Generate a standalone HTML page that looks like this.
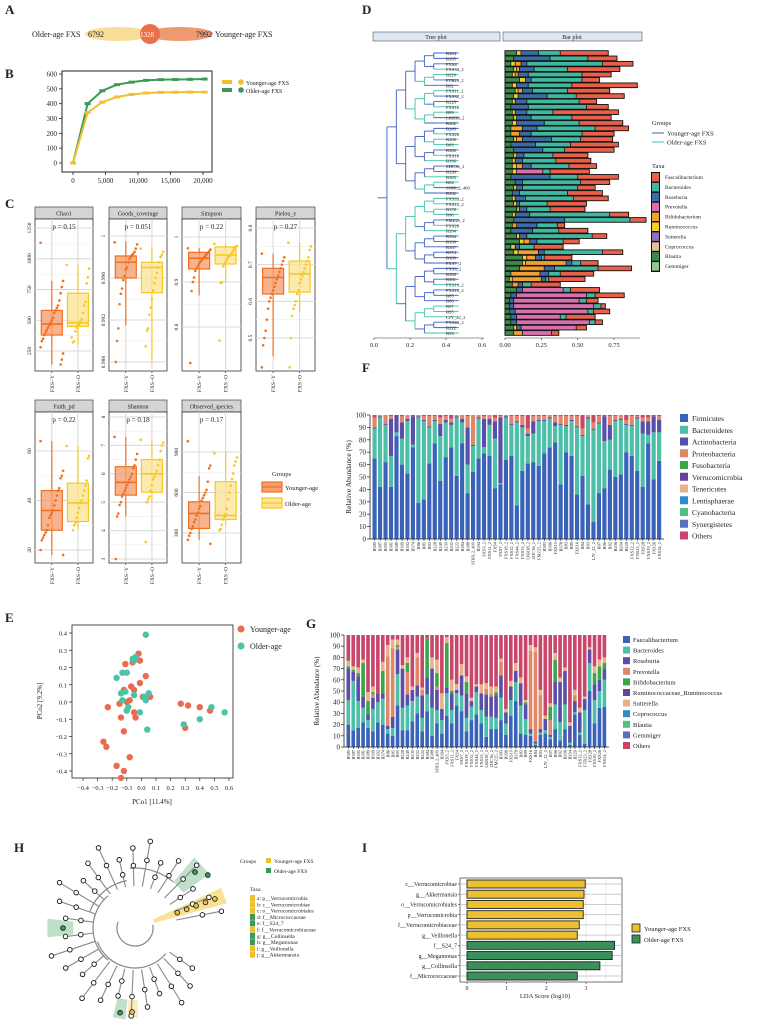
<!DOCTYPE html>
<html><head><meta charset="utf-8"><title>FXS microbiome figure</title>
<style>
html,body{margin:0;padding:0;background:#fff;}
svg{display:block;font-family:"Liberation Serif","Noto Serif CJK SC",serif;}
</style></head>
<body>
<svg id="fig" width="758" height="1028" viewBox="0 0 758 1028" xmlns="http://www.w3.org/2000/svg"></svg>
<script>
// ---------- DATA ----------
const rareX = [0,2250,4500,6750,9000,11250,13500,15750,18000,20250];
const rareYoung = [0,340,410,445,462,472,476,477,478,478];
const rareOld = [0,400,487,528,545,557,562,563,564,566];
const chaoY=[140,380,470,580,820], chaoO=[300,450,480,720,950];
const chaoPtsY=[1130,820,770,720,660,620,600,580,560,520,500,480,460,440,420,400,380,350,330,280,230,180,140];
const chaoPtsO=[950,920,850,800,650,620,560,510,490,470,460,440,410,330,320,360];
const goodsY=[0.9915,0.9960,0.9975,0.9981,0.9995], goodsO=[0.9880,0.9946,0.9970,0.9975,0.9990];
const goodsPtsY=[0.9994,0.9992,0.9988,0.9985,0.9983,0.9982,0.998,0.9978,0.9975,0.997,0.9968,0.9962,0.9958,0.995,0.9945,0.9935,0.9912,0.9900,0.9880];
const goodsPtsO=[0.9988,0.9985,0.9982,0.998,0.9975,0.997,0.9965,0.996,0.9955,0.9948,0.994,0.9932,0.9925,0.9912,0.9910,0.9895];
const simpY=[0.87,0.929,0.953,0.966,0.975], simpO=[0.90,0.94,0.96,0.978,0.985];
const simpPtsY=[0.975,0.972,0.968,0.965,0.962,0.958,0.955,0.952,0.948,0.945,0.94,0.935,0.93,0.925,0.91,0.9,0.88,0.72];
const simpPtsO=[0.985,0.98,0.978,0.975,0.97,0.965,0.96,0.958,0.955,0.95,0.945,0.94,0.935,0.9,0.898,0.77];
const pielY=[0.45,0.62,0.665,0.69,0.73], pielO=[0.57,0.625,0.675,0.71,0.76];
const pielPtsY=[0.73,0.72,0.71,0.7,0.69,0.68,0.67,0.66,0.65,0.64,0.63,0.62,0.61,0.6,0.58,0.55,0.52,0.5,0.48,0.42];
const pielPtsO=[0.76,0.75,0.74,0.72,0.71,0.7,0.69,0.68,0.67,0.66,0.65,0.63,0.62,0.6,0.59,0.58,0.56,0.5,0.42];
const faithY=[18,28,36,44,64], faithO=[28,31.5,39,47,62];
const faithPtsY=[64,52,50,49,45,44,42,40,38,36,35,34,33,30,28,27,26,25,24,20,18];
const faithPtsO=[62,58,57,48,46,44,42,40,39,37,35,33,31,30,28];
const shanY=[4.5,5.25,5.7,6.25,7.3], shanO=[5.0,5.35,6.0,6.5,7.2];
const shanPtsY=[7.3,6.7,6.5,6.3,6.2,6.0,5.9,5.8,5.7,5.6,5.5,5.4,5.3,5.2,5.0,4.9,4.6,4.5,3.0];
const shanPtsO=[7.2,7.1,7.0,6.8,6.5,6.3,6.1,6.0,5.9,5.8,5.6,5.4,5.2,5.1,5.0,3.6];
const obsY=[250,334,445,531,720], obsO=[360,400,430,680,900];
const obsPtsY=[980,800,780,680,620,600,580,560,540,500,480,450,430,400,380,350,330,300,280,250,220];
const obsPtsO=[890,860,830,800,740,700,650,600,550,480,440,420,400,360,330,320];
const dLabels=["B384","B395","FXS4","FXS34_2","B229","FTR23_2","B92","FXS11_2","FXS32_2","B228","FXS16","B89","LKR38_2","B202","B249","FXS26","B206","B83","B380","FXS10","B396","ZHC36_2","B230","B383","B84","SJH9_2_400","B392","FXS33_2","FXS12_2","B378","B96","FMZ25_2","FXS28","B204","B394","B399","B387","B374","B389","FXS7_2","FXS3_2","B388","B381","FXS19_2","FXS18_2","B85","B86","B97","B95","LJY_22_2","FXS44_2","B222","B93"];
const dGroup=[0,0,0,1,1,0,0,1,0,0,1,1,0,0,0,1,1,1,0,1,1,0,0,1,1,0,0,1,1,1,1,0,1,1,0,0,0,0,0,0,0,0,0,1,0,0,0,1,1,1,0,0,1];
const dMisc=[.08,.06,.04,.06,.05,.10,.05,.07,.06,.05,.04,.05,.06,.05,.04,.04,.06,.04,.06,.06,.05,.05,.05,.04,.07,.06,.05,.05,.06,.08,.05,.06,.05,.04,.08,.1,.04,.06,.12,.12,.1,.04,.03,.05,.08,.04,.03,.03,.03,.04,.04,.06,.06];
const dRumino=[.03,.0,.03,.02,.02,.04,.03,.02,.03,.02,.0,.02,.02,.03,.0,.0,.02,.0,.0,.02,.02,.03,.03,.0,.0,.02,.0,.02,.02,.0,.02,.0,.0,.0,.02,.03,.03,.03,.03,.02,.0,.0,.02,.0,.0,.0,.0,.0,.0,.0,.0,.02,.0];
const dBifido=[.0,.0,.04,.02,.02,.0,.0,.03,.0,.0,.0,.0,.0,.0,.08,.06,.04,.0,.0,.0,.0,.04,.0,.0,.0,.0,.0,.0,.0,.02,.0,.0,.03,.0,.0,.04,.0,.14,.06,.28,.17,.2,.2,.04,.0,.0,.0,.0,.0,.0,.0,.0,.06];
const dRose=[.12,.25,.04,.1,.07,.04,.08,.07,.2,.08,.12,.08,.1,.19,.1,.08,.2,.17,.2,.05,.05,.06,.0,.27,.05,.04,.05,.07,.02,.05,.1,.35,.14,.15,.05,.05,.03,.04,.04,.04,.07,.06,.03,.03,.04,.04,.03,.03,.04,.04,.04,.03,.0];
const dPrev=[0,0,0,0,0,0,0,0,0,0,0,0,0,0,0,0,0,0,0,0,0,0,.18,0,0,0,0,0,0,0,0,0,0,0,0,0,0,0,0,0,0,0,0,0,.28,.48,.45,.55,.5,.3,.5,.38,.2];
const dBact=[.15,.26,.52,.23,.37,.35,.3,.24,.2,.36,.4,.18,.28,.24,.4,.35,.2,.24,.15,.2,.23,.26,.05,.19,.4,.38,.33,.33,.19,.16,.55,.45,.14,.18,.45,.18,.1,.4,.02,.06,.3,.08,.02,.06,.05,.06,.05,.05,.04,.04,.04,.0,.0];
const dFaec=[.33,.2,.21,.36,.2,.12,.45,.29,.33,.12,.15,.45,.27,.3,.23,.22,.22,.33,.34,.24,.24,.19,.27,.28,.2,.12,.24,.24,.27,.24,.13,.11,.05,.2,.1,.11,.2,.14,.19,.12,.23,.23,.25,.2,.2,.2,.08,.03,.11,.2,.05,.07,.05];
const dTicks=[0,0.25,0.5,0.75];
const treeTicks=[0,0.2,0.4,0.6];
const fLabels=["B380","B387","B395","B381","B389","B399","B392","B374","B86","B85","B95","B228","B249","B230","B202","B222","B384","B388","SJH9_2_400","B394","FXS3_2","FXS11_2","FXS4","FXS7_2","FXS18_2","FXS32_2","FXS44_2","FXS33_2","LKR38_2","ZHC36_2","FMZ25_2","B383","B396","FXS10","B378","B83","B89","FXS16","B84","B93","LJY_22_2","B97","B96","B92","B206","B204","B229","FXS12_2","FTR23_2","FXS28","FXS19_2","FXS26","FXS34_2"];
const firm=[65,42,62,42,83,60,53,74,29,32,61,77,47,66,74,51,77,37,54,65,69,67,41,44,64,67,27,55,61,62,59,69,74,78,44,70,67,36,51,28,14,37,41,56,50,52,70,67,55,42,77,48,63];
const bacteroidetes=[24,56,30,25,3,21,42,2,69,63,29,18,36,28,18,47,17,23,21,32,5,25,40,1,34,25,67,35,22,23,36,26,23,13,48,21,28,54,32,69,74,56,38,24,45,44,22,24,42,43,7,38,23];
const actino=[1,1,1,30,14,13,2,23,1,1,1,1,10,2,2,1,3,30,1,1,23,5,14,53,1,1,1,2,2,10,1,1,1,3,1,1,1,1,1,1,1,1,20,12,1,1,1,1,1,10,11,13,10];
const proteo=[8,1,7,2,0,5,3,0,1,3,8,3,5,3,3,1,3,9,24,2,2,3,3,1,1,6,4,7,4,4,3,3,2,5,6,7,3,8,5,2,5,5,0,7,3,3,3,7,1,3,3,0,3];
const fTicks=[0,10,20,30,40,50,60,70,80,90,100];
const gFaec=[20,15,17,22,17,14,22,20,12,10,37,15,15,23,30,14,32,10,21,12,28,21,37,32,14,24,29,21,9,16,16,24,11,28,41,12,11,10,2,11,12,7,16,6,16,2,29,11,3,50,21,35,36];
const gBact=[22,44,24,13,7,20,18,23,4,7,28,20,22,18,15,12,15,25,12,12,20,12,11,14,12,12,20,12,18,11,10,20,10,14,17,25,14,2,1,2,3,2,22,16,22,2,2,2,30,25,21,15,24];
const gRose=[28,8,22,10,5,10,8,5,3,10,22,35,10,10,10,20,15,35,18,10,5,15,3,18,22,5,5,15,20,18,20,20,10,12,10,20,13,4,2,3,10,2,20,36,30,15,10,18,10,12,14,10,10];
const gPrev=[0,0,0,0,0,3,0,0,62,61,2,0,20,0,25,5,0,0,3,0,0,0,0,0,0,0,0,0,5,3,0,12,0,0,0,0,0,70,80,30,0,13,0,0,0,0,5,0,0,0,0,0,0];
const gBifido=[2,2,3,30,12,2,0,20,0,0,2,0,8,0,0,0,35,0,12,0,40,2,0,0,10,0,0,0,0,0,3,0,0,0,0,0,2,0,0,0,0,12,20,0,0,0,0,0,0,0,10,12,5];
const gSutt=[5,3,5,3,8,5,0,8,10,8,5,3,5,3,4,2,0,10,12,14,5,10,5,10,5,3,2,8,5,6,5,3,3,5,7,5,2,5,4,5,3,3,6,4,3,3,5,4,2,2,6,6,5];
const pcYoungX=[-0.02,-0.01,-0.06,-0.11,0.03,-0.01,-0.07,-0.12,-0.05,0.01,0.06,-0.08,-0.10,-0.15,-0.23,-0.05,-0.14,-0.04,-0.12,-0.26,-0.24,-0.08,-0.17,-0.12,-0.14,0.27,0.32,0.40,0.30,0.47];
const pcYoungY=[0.28,0.24,0.23,0.22,0.15,0.11,0.09,0.07,0.07,0.03,0.03,0.01,0.0,-0.01,-0.03,-0.06,-0.09,-0.09,-0.17,-0.23,-0.26,-0.32,-0.37,-0.40,-0.44,-0.01,-0.02,-0.03,-0.15,-0.05];
const pcOldX=[0.03,-0.06,-0.04,-0.05,-0.13,-0.10,-0.17,-0.11,-0.14,0.05,-0.05,0.02,0.03,-0.13,-0.09,-0.10,-0.01,0.04,0.29,0.40,0.48,0.57];
const pcOldY=[0.39,0.25,0.26,0.24,0.17,0.17,0.14,0.06,0.05,0.05,0.04,0.03,0.01,0.01,-0.03,-0.05,-0.06,-0.16,-0.13,-0.10,-0.03,-0.06];
const pcXTicks=[-0.4,-0.3,-0.2,-0.1,0.0,0.1,0.2,0.3,0.4,0.5,0.6];
const pcYTicks=[0.4,0.3,0.2,0.1,0.0,-0.1,-0.2,-0.3,-0.4];
const ldaTaxa=["c__Verrucomicrobiae","g__Akkermansia","o__Verrucomicrobiales","p__Verrucomicrobia","f__Verrucomicrobiaceae","g__Veillonella","f__S24_7","g__Megamonas","g__Collinsella","f__Micrococcaceae"];
const ldaScore=[2.98,2.95,2.93,2.93,2.83,2.78,3.72,3.66,3.35,2.78];
const ldaGroup=[0,0,0,0,0,0,1,1,1,1];
const ldaTicks=[0,1,2,3];

// ---------- HELPERS ----------
const NS="http://www.w3.org/2000/svg";
const svg=document.getElementById('fig');
function mk(tag,attrs,name,parent){
  const el=document.createElementNS(NS,tag);
  for(const k in attrs) el.setAttribute(k,attrs[k]);
  
  
  (parent||svg).appendChild(el);
  return el;
}
function txt(x,y,s,size,name,extra,parent){
  const a=Object.assign({x:x,y:y,'font-size':size,fill:'#222'},extra||{});
  const t=mk('text',a,name,parent);
  t.textContent=s;
  return t;
}
function lin(v0,p0,v1,p1){return v=>p0+(v-v0)*(p1-p0)/(v1-v0);}
function rect(x,y,w,h,fill,name,extra,parent){return mk('rect',Object.assign({x:x,y:y,width:Math.max(0,w),height:Math.max(0,h),fill:fill},extra||{}),name,parent);}
function line(x1,y1,x2,y2,stroke,sw,name,extra,parent){return mk('line',Object.assign({x1:x1,y1:y1,x2:x2,y2:y2,stroke:stroke,'stroke-width':sw},extra||{}),name,parent);}

[["A",5,14],["B",5,78],["C",5,208],["D",362,14],["F",362,372],["E",5,622],["G",306,628],["H",14,852],["I",362,852]].forEach(p=>{
  txt(p[1],p[2],p[0],13,'panel-label-'+p[0].toLowerCase(),{'font-weight':'bold'});
});

// ---------- A Venn ----------
mk('ellipse',{cx:118,cy:34,rx:33,ry:7,fill:'#f9dd98'},'venn-older');
mk('ellipse',{cx:180,cy:34,rx:33,ry:7,fill:'#f09a72'},'venn-younger');
mk('circle',{cx:150,cy:34,r:10,fill:'#e8704a'},'venn-overlap');
txt(32,37,"Older-age FXS",8,'venn-older-label');
txt(88,37,"6792",8,'venn-older-count');
txt(140,37,"1328",7,'venn-overlap-count',{fill:'#fff'});
txt(196,37,"7992",8,'venn-younger-count');
txt(215,37,"Younger-age FXS",8,'venn-younger-label');

// ---------- B rarefaction ----------
(function(){
  const X=lin(0,73,20000,203), Y=lin(0,163,600,74);
  rect(62,71,150,101,'none','rarefaction-plot-box',{stroke:'#222','stroke-width':1});
  [0,100,200,300,400,500,600].forEach(v=>{line(59,Y(v),62,Y(v),'#222',0.8,'y-tick');txt(57,Y(v)+2.5,String(v),7,'y-tick-label',{'text-anchor':'end'});});
  [0,5000,10000,15000,20000].forEach(v=>{line(X(v),172,X(v),175,'#222',0.8,'x-tick');txt(X(v),183,v.toLocaleString('en-US'),7,'x-tick-label',{'text-anchor':'middle'});});
  [[rareOld,'#3a9a55','older'],[rareYoung,'#f0c030','younger']].forEach(s=>{
    const pts=rareX.map((x,i)=>X(x)+','+Y(s[0][i])).join(' ');
    mk('polyline',{points:pts,fill:'none',stroke:s[1],'stroke-width':2},'rarefaction-line-'+s[2]);
    rareX.forEach((x,i)=>{mk('rect',{x:X(x)-3,y:Y(s[0][i])-1.5,width:6,height:3,fill:s[1]},'rarefaction-point-'+s[2]);});
  });
  rect(222,80,10,4,'#f0c030','legend-swatch-younger');mk('circle',{cx:241,cy:82,r:2.8,fill:'#f0c030'},'legend-dot-younger');
  txt(246,85,"Younger-age FXS",6,'legend-label-younger');
  rect(222,88,10,4,'#3a9a55','legend-swatch-older');mk('circle',{cx:241,cy:90,r:2.8,fill:'#3a9a55'},'legend-dot-older');
  txt(246,93,"Older-age FXS",6,'legend-label-older');
})();

// ---------- C box plots ----------
function boxPanel(x0,x1,y0,y1,title,p,ticks,Y,bY,bO,ptsY,ptsO){
  const g=mk('g',{},'facet-'+title.toLowerCase());
  rect(x0,y0-12,x1-x0,12,'#d4d4d4','facet-strip',{stroke:'#444','stroke-width':0.7},g);
  txt((x0+x1)/2,y0-3.5,title,6,'facet-title',{'text-anchor':'middle'},g);
  rect(x0,y0,x1-x0,y1-y0,'#fff','facet-panel',{stroke:'#333','stroke-width':0.8},g);
  ticks.forEach(t=>{const yy=Y(t);if(yy>y0&&yy<y1){line(x0,yy,x1,yy,'#d8d8d8',1,'grid-line',{},g);
    txt(x0-4,yy,String(t),5.5,'y-tick-label',{'text-anchor':'middle',transform:`rotate(-90 ${x0-4} ${yy})`},g);}
  });
  ticks.forEach((t,i)=>{if(i<ticks.length-1){const ym=(Y(t)+Y(ticks[i+1]))/2;if(ym>y0&&ym<y1)line(x0,ym,x1,ym,'#eeeeee',0.6,'grid-minor',{},g);}});
  const xs=[x0+(x1-x0)*0.29,x0+(x1-x0)*0.74];
  xs.forEach(x=>line(x,y0,x,y1,'#d8d8d8',1,'grid-line-x',{},g));
  txt((x0+x1)/2,y0+10,"p = "+p,7,'p-value',{'text-anchor':'middle'},g);
  const cols=[['#f07020','#f4a070'],['#f8c820','#fae49a']];
  [bY,bO].forEach((b,k)=>{
    const x=xs[k],c=cols[k],w=21;
    const cl=v=>Math.max(y0,Math.min(y1,Y(v)));
    line(x,cl(b[0]),x,cl(b[4]),c[0],1.2,'whisker',{},g);
    rect(x-w/2,cl(b[3]),w,cl(b[1])-cl(b[3]),c[1],'box',{stroke:c[0],'stroke-width':1.2,'fill-opacity':0.8},g);
    line(x-w/2,cl(b[2]),x+w/2,cl(b[2]),c[0],1.6,'median-line',{},g);
  });
  [ptsY,ptsO].forEach((ps,k)=>{
    const c=cols[k][0];
    ps.forEach((v,i)=>{const yy=Y(v);if(yy<y0||yy>y1)return;const dx=((i*37)%19-9)*1.25;
      mk('circle',{cx:xs[k]+dx,cy:yy,r:1.3,fill:c},'data-point',g);});
  });
  ['FXS−Y','FXS−O'].forEach((s,k)=>{line(xs[k],y1,xs[k],y1+2,'#333',0.7,'x-tick',{},g);
    txt(xs[k]+2,y1+4,s,5.5,'x-tick-label',{'text-anchor':'end',transform:`rotate(-90 ${xs[k]+2} ${y1+4})`},g);});
}
boxPanel(35,93,219,371,"Chao1","0.15",[250,500,750,1000,1250],lin(250,351,1250,228),chaoY,chaoO,chaoPtsY,chaoPtsO);
boxPanel(109,167,219,371,"Goods_coverage","0.051",[0.988,0.992,0.996,1.0],lin(0.988,362,1.0,236),goodsY,goodsO,goodsPtsY,goodsPtsO);
boxPanel(182,241,219,371,"Simpson","0.22",[0.8,0.9,1.0],lin(0.8,327,1.0,237),simpY,simpO,simpPtsY,simpPtsO);
boxPanel(256,315,219,371,"Pielou_e","0.27",[0.5,0.6,0.7,0.8],lin(0.5,338,0.8,228),pielY,pielO,pielPtsY,pielPtsO);
boxPanel(35,93,412,563,"Faith_pd","0.22",[20,40,60],lin(20,550,60,451),faithY,faithO,faithPtsY,faithPtsO);
boxPanel(109,167,412,563,"Shannon","0.18",[3,4,5,6,7,8],lin(3,559,8,417),shanY,shanO,shanPtsY,shanPtsO);
boxPanel(182,241,412,563,"Observed_species","0.17",[300,600,900],lin(300,533,900,452),obsY,obsO,obsPtsY,obsPtsO);
txt(272,476,"Groups",6.5,'legend-title');
rect(262,482,20,10,'#f4a070','legend-box-younger',{stroke:'#f07020','stroke-width':1.2});
line(262,487,282,487,'#f07020',1.2,'legend-median-younger');
txt(285,490,"Younger-age",6.5,'legend-label-younger');
rect(262,498,20,10,'#fae49a','legend-box-older',{stroke:'#f8c820','stroke-width':1.2});
line(262,503,282,503,'#f8c820',1.2,'legend-median-older');
txt(285,506,"Older-age",6.5,'legend-label-older');

// ---------- D tree + bar ----------
(function(){
  rect(373,32,127,9,'#dde6f4','tree-strip',{stroke:'#555','stroke-width':0.6});
  txt(436,39,"Tree plot",6,'tree-strip-title',{'text-anchor':'middle'});
  rect(503,32,139,9,'#dde6f4','bar-strip',{stroke:'#555','stroke-width':0.6});
  txt(572,39,"Bar plot",6,'bar-strip-title',{'text-anchor':'middle'});
  const n=dLabels.length, rowY=i=>53+i*(280/(n-1));
  const TX=lin(0,374,0.6,482);
  const gcol=['#3f5fc0','#3ec0a8'];
  function build(lo,hi,depth){
    const x=TX(0.02+depth*0.052);
    if(lo===hi){line(x,rowY(lo),TX(0.47),rowY(lo),gcol[dGroup[lo]],0.9,'tree-leaf-branch');return {y:rowY(lo),g:dGroup[lo]};}
    const mid=Math.floor((lo+hi)/2);
    const a=build(lo,mid,depth+1),b=build(mid+1,hi,depth+1);
    const cx=TX(0.02+(depth+1)*0.052);
    const gg=(a.g===b.g)?a.g:dGroup[lo];
    line(cx,a.y,cx,b.y,gcol[gg],0.9,'tree-node');
    line(x,(a.y+b.y)/2,cx,(a.y+b.y)/2,gcol[gg],0.9,'tree-branch');
    return {y:(a.y+b.y)/2,g:gg};
  }
  build(0,n-1,0);
  dLabels.forEach((s,i)=>txt(446,rowY(i)+2,s,4.6,'tree-leaf-label'));
  line(374,338,484,338,'#333',0.6,'tree-axis');
  treeTicks.forEach(t=>{line(TX(t),338,TX(t),340,'#333',0.6,'tree-tick');txt(TX(t),347,t.toFixed(1),6.5,'tree-tick-label',{'text-anchor':'middle'});});
  const BX=lin(0,505,0.75,614);
  const segs=[[dMisc,'#3a8a4a'],[dRumino,'#f0d030'],[dBifido,'#f0a030'],[dRose,'#3a6aa8'],[dPrev,'#d870b0'],[dBact,'#40b8a0'],[dFaec,'#e8604a']];
  dLabels.forEach((s,i)=>{
    let acc=0;const y=rowY(i)-2.3;
    let tot=segs.reduce((a,sg)=>a+sg[0][i],0);
    rect(BX(0)-0.5,y-0.5,BX(tot)-BX(0)+1,5.6,'#111','bar-row-outline');
    segs.forEach(sg=>{const v=sg[0][i];if(v>0){rect(BX(acc)+0.4,y+0.4,BX(acc+v)-BX(acc)-0.8,3.8,sg[1],'bar-segment');}acc+=v;});
  });
  line(505,338,640,338,'#333',0.6,'bar-axis');
  dTicks.forEach(t=>{line(BX(t),338,BX(t),340,'#333',0.6,'bar-tick');txt(BX(t),347,t.toFixed(2),6.5,'bar-tick-label',{'text-anchor':'middle'});});
  txt(652,125,"Groups",6.5,'groups-legend-title');
  line(652,133,664,133,'#3f5fc0',1,'legend-younger-line');txt(667,135.5,"Younger-age FXS",6.5,'legend-younger-label');
  line(652,142,664,142,'#3ec0a8',1,'legend-older-line');txt(667,144.5,"Older-age FXS",6.5,'legend-older-label');
  txt(652,168,"Taxa",6.5,'taxa-legend-title');
  const tn=["Faecalibacterium","Bacteroides","Roseburia","Prevotella","Bifidobacterium","Ruminococcus","Sutterella","Coprococcus","Blautia","Gemmiger"];
  const tc=['#e8604a','#40b8a0','#3a6aa8','#d870b0','#f0a030','#f0d030','#9070c0','#e0c090','#3a8a4a','#90c890'];
  rect(651,172,9,100,'#111','taxa-legend-frame');
  tn.forEach((s,i)=>{rect(652,173+i*9.9,7,8.5,tc[i],'taxa-legend-swatch');txt(665,179+i*9.9,s,5.5,'taxa-legend-label');});
})();

function stacked(x0,x1,y0,y1,labels,series,colors,prefix){
  const n=labels.length, bw=(x1-x0)/n, Y=lin(0,y1,100,y0);
  labels.forEach((s,i)=>{
    let acc=0;
    series.forEach((ser,k)=>{
      const v=(ser===null)?Math.max(0,100-acc):ser[i];
      const top=Math.min(100,acc+v);
      if(top>acc)rect(x0+i*bw+0.5,Y(top),bw-1.3,Y(acc)-Y(top),colors[k],prefix+'-segment');
      acc=top;
    });
    line(x0+i*bw+bw/2,y1,x0+i*bw+bw/2,y1+2,'#222',0.6,prefix+'-x-tick');
    txt(x0+i*bw+bw/2+1.5,y1+3,s,4.4,prefix+'-x-label',{'text-anchor':'end',transform:`rotate(-90 ${x0+i*bw+bw/2+1.5} ${y1+3})`});
  });
  line(x0-2,y0,x0-2,y1,'#222',0.8,prefix+'-y-axis');
  line(x0-2,y1,x1+2,y1,'#222',0.8,prefix+'-x-axis');
  fTicks.forEach(t=>{line(x0-5,Y(t),x0-2,Y(t),'#222',0.7,prefix+'-y-tick');txt(x0-6,Y(t)+2.5,String(t),7,prefix+'-y-tick-label',{'text-anchor':'end'});});
}
(function(){
  const cols=['#3a62b8','#4dbfa8','#5a4fa8','#e0876a','#c8466a'];
  stacked(372,662,415,539,fLabels,[firm,bacteroidetes,actino,proteo,null],cols,'phylum');
  txt(351,477,"Relative Abundance (%)",7.5,'phylum-y-title',{'text-anchor':'middle',transform:'rotate(-90 351 477)'});
  const ln=["Firmicutes","Bacteroidetes","Actinobacteria","Proteobacteria","Fusobacteria","Verrucomicrobia","Tenericutes","Lentisphaerae","Cyanobacteria","Synergistetes","Others"];
  const lc=['#3a62b8','#4dbfa8','#5a4fa8','#e0876a','#3aa64a','#6a3fa0','#e8b08a','#2f8ad0','#50c080','#5a70c0','#c8466a'];
  ln.forEach((s,i)=>{rect(680,414+i*11.75,8,8,lc[i],'phylum-legend-swatch');txt(692,421+i*11.75,s,7.5,'phylum-legend-label');});
})();
(function(){
  const cols=['#3a62b8','#4dbfa8','#5a4fa8','#e0876a','#3aa64a','#e8b08a','#c8466a'];
  stacked(346,607,635,747,fLabels,[gFaec,gBact,gRose,gPrev,gBifido,gSutt,null],cols,'genus');
  txt(319,691,"Relative Abundance (%)",7,'genus-y-title',{'text-anchor':'middle',transform:'rotate(-90 319 691)'});
  const ln=["Faecalibacterium","Bacteroides","Roseburia","Prevotella","Bifidobacterium","Ruminococcaceae_Ruminococcus","Sutterella","Coprococcus","Blautia","Gemmiger","Others"];
  const lc=['#3a62b8','#4dbfa8','#5a4fa8','#e0876a','#3aa64a','#6a3fa0','#e8b08a','#2f8ad0','#50c080','#5a70c0','#c8466a'];
  ln.forEach((s,i)=>{rect(623,636+i*10.6,7,7,lc[i],'genus-legend-swatch');txt(633,642+i*10.6,s,6.5,'genus-legend-label');});
})();

// ---------- E PCoA ----------
(function(){
  const X=lin(-0.4,83,0.6,229), Y=lin(0.4,633,-0.4,771);
  rect(72,625,161,153,'none','pcoa-plot-box',{stroke:'#222','stroke-width':0.8});
  pcXTicks.forEach(t=>{line(X(t),778,X(t),781,'#222',0.7,'x-tick');txt(X(t),790,(Math.abs(t)<1e-9?"0.0":(t<0?"−":"")+Math.abs(t).toFixed(1)),6.5,'x-tick-label',{'text-anchor':'middle'});});
  pcYTicks.forEach(t=>{line(69,Y(t),72,Y(t),'#222',0.7,'y-tick');txt(67,Y(t)+2.5,(Math.abs(t)<1e-9?"0.0":(t<0?"−":"")+Math.abs(t).toFixed(1)),6.5,'y-tick-label',{'text-anchor':'end'});});
  txt(152,804,"PCo1 [11.4%]",7,'x-axis-title',{'text-anchor':'middle'});
  txt(42,701,"PCo2 [9.2%]",7,'y-axis-title',{'text-anchor':'middle',transform:'rotate(-90 42 701)'});
  pcYoungX.forEach((x,i)=>mk('circle',{cx:X(x),cy:Y(pcYoungY[i]),r:3.2,fill:'#ec6a50'},'pcoa-point-younger'));
  pcOldX.forEach((x,i)=>mk('circle',{cx:X(x),cy:Y(pcOldY[i]),r:3.2,fill:'#4cc2a8'},'pcoa-point-older'));
  mk('circle',{cx:241,cy:629,r:3.5,fill:'#ec6a50'},'legend-dot-younger');txt(250,632,"Younger-age",8,'legend-label-younger');
  mk('circle',{cx:241,cy:646,r:3.5,fill:'#4cc2a8'},'legend-dot-older');txt(250,649,"Older-age",8,'legend-label-older');
})();

// ---------- H cladogram ----------
(function(){
  const cx=135,cy=928;
  const P=(r,a)=>[cx+r*Math.cos(a*Math.PI/180),cy+r*Math.sin(a*Math.PI/180)];
  function sector(a0,a1,r0,r1,fill,name){
    const p1=P(r0,a0),p2=P(r1,a0),p3=P(r1,a1),p4=P(r0,a1);
    mk('path',{d:`M${p1} L${p2} L${p3} L${p4} Z`,fill:fill,opacity:0.55},name);
  }
  sector(-50,-36,60,92,'#8cc49a','clade-highlight-d');
  sector(-25,-15,20,95,'#f2c640','clade-highlight-a');
  sector(174,186,62,88,'#8cc49a','clade-highlight-c');
  sector(96,104,72,92,'#8cc49a','clade-highlight-g');
  sector(88,95,72,90,'#f6d88a','clade-highlight-i');
  const arc=(r,a0,a1,name)=>{const p=P(r,a0),q=P(r,a1);mk('path',{d:`M${p} A${r} ${r} 0 ${Math.abs(a1-a0)>180?1:0} 1 ${q}`,fill:'none',stroke:'#888','stroke-width':1.2},name);};
  arc(18,-10,200,'inner-arc');
  arc(42,130,230,'arc-left');arc(48,-160,-100,'arc-top');arc(40,40,160,'arc-bottom');arc(60,-95,-50,'arc-upper-right');
  const leaves=[];
  for(let a=-172;a<=175;a+=11.5){if(a>0&&a<25)continue;leaves.push(a);}
  leaves.forEach((a,i)=>{
    const r1=(i%3===0)?70:(i%3===1?80:88);
    const p0=P(42,a),p1=P(r1,a),pm=P(r1*0.78,a);
    line(p0[0],p0[1],p1[0],p1[1],'#888',1.1,'clade-branch');
    mk('circle',{cx:pm[0],cy:pm[1],r:2.3,fill:'#fff',stroke:'#111','stroke-width':0.9},'clade-node');
    mk('circle',{cx:p1[0],cy:p1[1],r:2.3,fill:'#fff',stroke:'#111','stroke-width':0.9},'clade-leaf');
  });
  [[-43,82,'#3a9a55'],[-36,90,'#3a9a55'],[180,72,'#3a9a55'],[100,86,'#3a9a55'],[92,84,'#f0c030']].forEach(m=>{const p=P(m[1],m[0]);mk('circle',{cx:p[0],cy:p[1],r:2.4,fill:m[2],stroke:'#111','stroke-width':0.8},'biomarker-node');});
  [[-20,45],[-20,55],[-20,65],[-20,75],[-20,85]].forEach(m=>{const p=P(m[1],m[0]);mk('circle',{cx:p[0],cy:p[1],r:2.4,fill:'#f0c030',stroke:'#111','stroke-width':0.8},'biomarker-node');});
  txt(240,863,"Groups",5.5,'clado-groups-title');
  rect(266,858,5,5,'#f0c030','clado-legend-younger');txt(274,863,"Younger-age FXS",5.5,'clado-legend-younger-label');
  rect(266,868,5,5,'#3a9a55','clado-legend-older');txt(274,873,"Older-age FXS",5.5,'clado-legend-older-label');
  txt(250,891,"Taxa",5.5,'clado-taxa-title');
  const tx=["a: p__Verrucomicrobia","b: c__Verrucomicrobiae","c: o__Verrucomicrobiales","d: f__Micrococcaceae","e: f__S24_7","f: f__Verrucomicrobiaceae","g: g__Collinsella","h: g__Megamonas","i: g__Veillonella","j: g__Akkermansia"];
  const tg=[0,0,0,1,1,0,1,1,0,0];
  tx.forEach((s,i)=>{rect(250,895+i*6.3,5,6,tg[i]?'#3a9a55':'#f0c030','clado-taxa-swatch');txt(257,900+i*6.3,s,5.5,'clado-taxa-label');});
})();

// ---------- I LDA ----------
(function(){
  const X=lin(0,467,3,586), x0=460,x1=622,y0=878,y1=982;
  rect(x0,y0,x1-x0,y1-y0,'#fff','lda-plot-box',{stroke:'#555','stroke-width':0.8});
  [0.5,1,1.5,2,2.5,3,3.5].forEach(t=>line(X(t),y0,X(t),y1,'#ddd',0.7,'lda-grid'));
  const step=(976-884)/(ldaTaxa.length-1);
  ldaTaxa.forEach((s,i)=>{
    const y=884+i*step;
    line(x0,y,x1,y,'#ccc',1,'lda-grid-row');
    rect(X(0),y-4,X(ldaScore[i])-X(0),8,ldaGroup[i]?'#3a8f5a':'#ecc030','lda-bar',{stroke:'#222','stroke-width':0.9});
    line(x0-2,y,x0,y,'#333',0.6,'lda-y-tick');
    txt(x0-3,y+2.2,s,6,'lda-taxon-label',{'text-anchor':'end'});
  });
  ldaTicks.forEach(t=>{line(X(t),y1,X(t),y1+2,'#333',0.6,'lda-x-tick');txt(X(t),y1+8,String(t),6,'lda-x-tick-label',{'text-anchor':'middle'});});
  txt(545,998,"LDA Score (log10)",6.5,'lda-x-title',{'text-anchor':'middle'});
  rect(632,924,8,8,'#ecc030','lda-legend-younger',{stroke:'#222','stroke-width':0.8});txt(644,931,"Younger-age FXS",6.5,'lda-legend-younger-label');
  rect(632,935,8,8,'#3a8f5a','lda-legend-older',{stroke:'#222','stroke-width':0.8});txt(644,942,"Older-age FXS",6.5,'lda-legend-older-label');
})();
</script>
</body></html>
